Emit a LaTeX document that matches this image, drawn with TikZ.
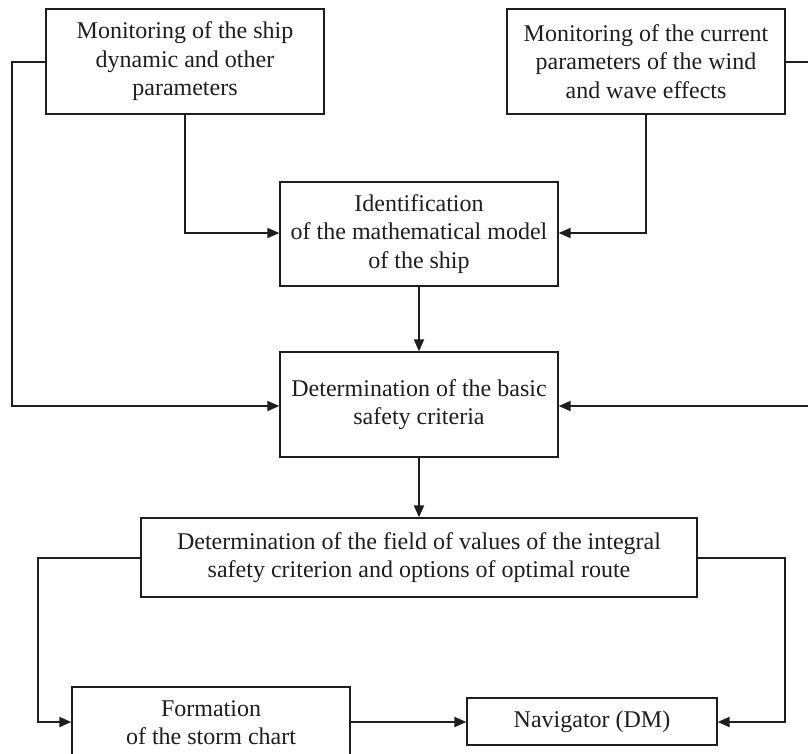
\documentclass[tikz,border=0pt]{standalone}
\usepackage{fontspec}
\setmainfont{Liberation Serif}
\usetikzlibrary{arrows.meta}
\definecolor{ink}{HTML}{1E1E1E}
\begin{document}
\begin{tikzpicture}[x=0.75pt,y=-0.75pt,
  blk/.style={draw=ink,line width=1pt,align=center,inner sep=0pt,
    font=\fontsize{18}{21.3}\selectfont,text=ink},
  conn/.style={draw=ink,line width=1.4pt,-{Triangle[length=9pt,width=7.5pt]}},
  plain/.style={draw=ink,line width=1.4pt}]
\useasboundingbox (0,0) rectangle (808,754);
\clip (0,0) rectangle (808,754);
\node[blk,minimum width=278*0.75pt,minimum height=105*0.75pt] (m1) at (185,61.5)
  {Monitoring of the ship\\dynamic and other\\parameters};
\node[blk,minimum width=278*0.75pt,minimum height=105*0.75pt] (m2) at (646,61.5)
  {Monitoring of the current\\parameters of the wind\\and wave effects};
\node[blk,minimum width=278*0.75pt,minimum height=104*0.75pt] (id) at (419,234)
  {Identification\\of the mathematical model\\of the ship};
\node[blk,minimum width=278*0.75pt,minimum height=105*0.75pt] (bc) at (419,404.5)
  {Determination of the basic\\safety criteria};
\node[blk,minimum width=556*0.75pt,minimum height=79*0.75pt] (fv) at (419,557.5)
  {Determination of the field of values of the integral\\safety criterion and options of optimal route};
\node[blk,minimum width=278*0.75pt,minimum height=71*0.75pt] (sc) at (211,722.5)
  {Formation\\of the storm chart};
\node[blk,minimum width=250*0.75pt,minimum height=47*0.75pt] (nv) at (592,721.5)
  {Navigator (DM)};
\coordinate (l1) at (12,62);
\coordinate (l2) at (12,406);
\coordinate (r1) at (814,62);
\coordinate (r2) at (814,406);
\coordinate (a1) at (185,233);
\coordinate (a2) at (646,233);
\coordinate (b1) at (38,558);
\coordinate (b2) at (38,722);
\coordinate (c1) at (785,558);
\coordinate (c2) at (785,722);
\draw[conn] (m1.west |- l1) -- (l1) -- (l2) -- (bc.west |- l2);
\draw[conn] (m2.east |- r1) -- (r1) -- (r2) -- (bc.east |- r2);
\draw[conn] (m1.south) -- (a1) -- (id.west |- a1);
\draw[conn] (m2.south) -- (a2) -- (id.east |- a2);
\draw[conn] (id.south) -- (bc.north);
\draw[conn] (bc.south) -- (fv.north);
\draw[conn] (fv.west |- b1) -- (b1) -- (b2) -- (sc.west |- b2);
\draw[conn] (fv.east |- c1) -- (c1) -- (c2) -- (nv.east |- c2);
\draw[conn] (sc.east |- b2) -- (nv.west |- b2);
\end{tikzpicture}
\end{document}
